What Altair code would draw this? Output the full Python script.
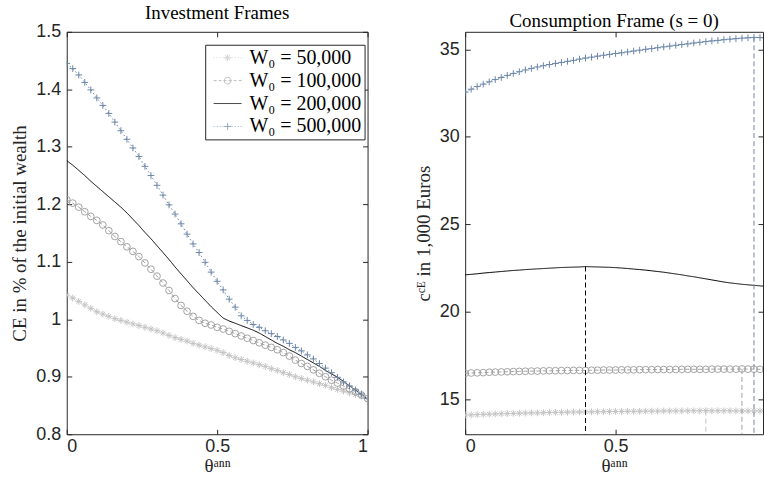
import altair as alt
import pandas as pd

# ---------------------------------------------------------------- data
THETA = [0.00, 0.02, 0.04, 0.06, 0.08, 0.10, 0.12, 0.14, 0.16, 0.18,
         0.20, 0.22, 0.24, 0.26, 0.28, 0.30, 0.32, 0.34, 0.36, 0.38,
         0.40, 0.42, 0.44, 0.46, 0.48, 0.50, 0.52, 0.54, 0.56, 0.58,
         0.60, 0.62, 0.64, 0.66, 0.68, 0.70, 0.72, 0.74, 0.76, 0.78,
         0.80, 0.82, 0.84, 0.86, 0.88, 0.90, 0.92, 0.94, 0.96, 0.98, 1.00]

SERIES = ["W₀ = 50,000", "W₀ = 100,000", "W₀ = 200,000", "W₀ = 500,000"]

# Investment frames: CE in % of the initial wealth
INV_50K = [1.042, 1.037, 1.031, 1.025, 1.019, 1.013, 1.009, 1.005, 1.001, 0.998,
           0.995, 0.992, 0.989, 0.986, 0.983, 0.980, 0.976, 0.972, 0.968, 0.965,
           0.962, 0.958, 0.955, 0.952, 0.949, 0.946, 0.942, 0.937, 0.933, 0.930,
           0.927, 0.924, 0.921, 0.918, 0.914, 0.911, 0.907, 0.904, 0.900, 0.897,
           0.894, 0.891, 0.888, 0.885, 0.881, 0.878, 0.875, 0.872, 0.869, 0.866, 0.862]
INV_100K = [1.208, 1.202, 1.195, 1.187, 1.179, 1.172, 1.164, 1.154, 1.144, 1.135,
            1.126, 1.118, 1.109, 1.098, 1.087, 1.075, 1.063, 1.050, 1.036, 1.024,
            1.014, 1.005, 0.998, 0.993, 0.990, 0.986, 0.983, 0.979, 0.975, 0.971,
            0.967, 0.963, 0.959, 0.955, 0.951, 0.947, 0.942, 0.936, 0.929, 0.923,
            0.918, 0.912, 0.906, 0.900, 0.894, 0.889, 0.884, 0.879, 0.874, 0.868, 0.862]
INV_200K = [1.276, 1.268, 1.259, 1.250, 1.240, 1.231, 1.222, 1.213, 1.204, 1.195,
            1.185, 1.174, 1.163, 1.151, 1.140, 1.128, 1.116, 1.104, 1.091, 1.079,
            1.067, 1.055, 1.044, 1.033, 1.022, 1.012, 1.002, 0.997, 0.993, 0.989,
            0.985, 0.981, 0.976, 0.970, 0.964, 0.958, 0.953, 0.947, 0.942, 0.936,
            0.930, 0.924, 0.918, 0.911, 0.905, 0.899, 0.892, 0.884, 0.877, 0.869, 0.862]
INV_500K = [1.445, 1.436, 1.425, 1.412, 1.399, 1.385, 1.372, 1.358, 1.343, 1.328,
            1.313, 1.298, 1.283, 1.266, 1.250, 1.233, 1.216, 1.199, 1.183, 1.166,
            1.148, 1.131, 1.116, 1.099, 1.082, 1.066, 1.051, 1.035, 1.021, 1.006,
            0.998, 0.991, 0.986, 0.980, 0.975, 0.970, 0.964, 0.958, 0.951, 0.945,
            0.938, 0.931, 0.923, 0.915, 0.907, 0.899, 0.891, 0.884, 0.877, 0.870, 0.862]

# Consumption frame (s = 0): c^CE in 1,000 Euros
CONS_50K = [14.10, 14.11, 14.12, 14.14, 14.15, 14.16, 14.17, 14.18, 14.19, 14.20,
            14.21, 14.22, 14.22, 14.23, 14.24, 14.25, 14.25, 14.26, 14.27, 14.27,
            14.28, 14.28, 14.29, 14.29, 14.30, 14.30, 14.30, 14.31, 14.31, 14.31,
            14.32, 14.32, 14.32, 14.33, 14.33, 14.33, 14.33, 14.34, 14.34, 14.34,
            14.35, 14.34, 14.34, 14.34, 14.34, 14.33, 14.33, 14.33, 14.33, 14.33, 14.33]
CONS_100K = [16.48, 16.50, 16.51, 16.52, 16.54, 16.55, 16.56, 16.57, 16.58, 16.59,
             16.60, 16.61, 16.61, 16.62, 16.63, 16.63, 16.64, 16.64, 16.65, 16.65,
             16.65, 16.66, 16.66, 16.67, 16.67, 16.67, 16.68, 16.68, 16.68, 16.69,
             16.69, 16.69, 16.70, 16.70, 16.70, 16.70, 16.71, 16.71, 16.71, 16.71,
             16.71, 16.72, 16.72, 16.72, 16.72, 16.72, 16.73, 16.72, 16.72, 16.71, 16.71]
CONS_200K = [22.11, 22.14, 22.17, 22.21, 22.24, 22.27, 22.30, 22.33, 22.36, 22.38,
             22.41, 22.43, 22.45, 22.47, 22.49, 22.51, 22.53, 22.54, 22.55, 22.56,
             22.58, 22.57, 22.56, 22.55, 22.54, 22.52, 22.50, 22.47, 22.44, 22.41,
             22.38, 22.34, 22.30, 22.26, 22.21, 22.16, 22.11, 22.05, 22.00, 21.94,
             21.88, 21.82, 21.76, 21.70, 21.65, 21.61, 21.57, 21.54, 21.51, 21.48, 21.45]
CONS_500K = [32.55, 32.72, 32.87, 33.01, 33.14, 33.27, 33.39, 33.51, 33.62, 33.72,
             33.82, 33.91, 33.99, 34.06, 34.13, 34.19, 34.25, 34.31, 34.37, 34.44,
             34.50, 34.55, 34.61, 34.66, 34.71, 34.76, 34.80, 34.85, 34.90, 34.95,
             35.00, 35.04, 35.09, 35.14, 35.18, 35.23, 35.27, 35.31, 35.36, 35.40,
             35.44, 35.48, 35.51, 35.55, 35.58, 35.61, 35.64, 35.66, 35.68, 35.67, 35.66]

# optimal θ^ann for each wealth level in the consumption frame
CONS_OPT_THETA = [0.80, 0.92, 0.40, 0.96]

INV_TICKS = [0.8, 0.9, 1.0, 1.1, 1.2, 1.3, 1.4, 1.5]
CONS_TICKS = [15, 20, 25, 30, 35]
X_TICKS = [0, 0.5, 1]
X_LABELLED_INV = [0, 0.5, 1]
X_LABELLED_CONS = [0, 0.5]

# ---------------------------------------------------------------- style
COLORS = ["#c4c4c4", "#a2a2a2", "#000000", "#6c86a8"]
DASHES = [[1.5, 2.5], [4, 2.5], [1, 0], [1.5, 2.5]]
WIDTHS = [1, 1, 1.2, 1]
AX = "#262626"
SERIF = "Liberation Serif"
SANS = "Liberation Sans"

ASTER = "M-1,0H1M0,-1V1M-0.7,-0.7L0.7,0.7M-0.7,0.7L0.7,-0.7"
PLUS = "M-1,0H1M0,-1V1"
MARKERS = [ASTER, "circle", "circle", PLUS]


def dotted(step, dash, half=3.5):
    out, x = [], -half
    while x < half - 1e-9:
        out.append(f"M{x:.2f},0h{min(dash, half - x):.2f}")
        x += step
    return "".join(out)


# legend glyphs: short line sample with the marker on it (unit = 4 px)
LEG_ASTER = "M-0.9,0H0.9M0,-0.9V0.9M-0.64,-0.64L0.64,0.64M-0.64,0.64L0.64,-0.64"
LEG_CIRCLE = "M0.85,0A0.85,0.85,0,1,1,-0.85,0A0.85,0.85,0,1,1,0.85,0"
LEG_PLUS = "M-0.9,0H0.9M0,-0.9V0.9"
LEGEND_GLYPHS = [dotted(0.75, 0.25) + LEG_ASTER,
                 dotted(1.25, 0.75) + LEG_CIRCLE,
                 "M-3.5,0H3.5",
                 dotted(0.75, 0.25) + LEG_PLUS]

H = 404
W_LEFT = 302
# the consumption panel runs off the right edge of the page: only θ ≤ 0.99 is shown
W_RIGHT = 299
X_DOMAIN_LEFT = [0, 1]
X_DOMAIN_RIGHT = [0, 0.99]


def long_frame(columns):
    rows = []
    for name, vals in zip(SERIES, columns):
        for t, v in zip(THETA, vals):
            rows.append({"theta": t, "value": v, "series": name})
    return pd.DataFrame(rows)


inv_df = long_frame([INV_50K, INV_100K, INV_200K, INV_500K])
cons_cols = [CONS_50K, CONS_100K, CONS_200K, CONS_500K]
cons_df = long_frame(cons_cols)
opt_df = pd.DataFrame({
    "theta": CONS_OPT_THETA,
    "value": [col[THETA.index(t)] for col, t in zip(cons_cols, CONS_OPT_THETA)],
    "series": SERIES,
})

color_scale = alt.Scale(domain=SERIES, range=COLORS)


def x_axis(values):
    return alt.Axis(orient="bottom", values=values, format="~g", title="θᵃⁿⁿ",
                    domain=False, grid=False, offset=-5, tickSize=5, tickColor=AX,
                    labelFont=SANS, labelFontSize=18, labelColor=AX, labelPadding=3,
                    titleFont=SERIF, titleFontSize=19, titleFontWeight="normal",
                    titleColor=AX, titlePadding=1)


def y_axis(values, title):
    return alt.Axis(orient="left", values=values, format="~g", title=title,
                    domain=False, grid=False, offset=-5, tickSize=5, tickColor=AX,
                    labelFont=SANS, labelFontSize=18, labelColor=AX, labelPadding=6,
                    titleFont=SERIF, titleFontSize=19, titleFontWeight="normal",
                    titleColor=AX, titlePadding=6)


def mirror_axis(orient, values):
    return alt.Axis(orient=orient, values=values, labels=False, title=None,
                    domain=False, grid=False, offset=-5, tickSize=5, tickColor=AX,
                    labelPadding=0)


def panel(df, xdom, width, ydom, yticks, ytitle, title, xlabels, with_legend=False, opt=None):
    xs = alt.Scale(domain=xdom, nice=False, zero=False)
    ys = alt.Scale(domain=ydom, nice=False, zero=False)
    base = alt.Chart(df)
    mirror_x = [v for v in X_TICKS if v <= xdom[1]]

    lines = base.mark_line(clip=True).encode(
        x=alt.X("theta:Q", scale=xs, axis=x_axis(xlabels)),
        y=alt.Y("value:Q", scale=ys, axis=y_axis(yticks, ytitle)),
        color=alt.Color("series:N", scale=color_scale, legend=None),
        strokeDash=alt.StrokeDash("series:N", scale=alt.Scale(domain=SERIES, range=DASHES), legend=None),
        strokeWidth=alt.StrokeWidth("series:N", scale=alt.Scale(domain=SERIES, range=WIDTHS), legend=None),
    )

    points = base.transform_filter(alt.datum.series != SERIES[2]).mark_point(
        filled=False, size=46, strokeWidth=1, opacity=1, clip=True
    ).encode(
        x=alt.X("theta:Q", scale=xs, axis=None),
        y=alt.Y("value:Q", scale=ys, axis=None),
        color=alt.Color("series:N", scale=color_scale, legend=None),
        shape=alt.Shape("series:N", scale=alt.Scale(domain=SERIES, range=MARKERS), legend=None),
    )

    frame = base.transform_filter("false").mark_point().encode(
        x=alt.X("theta:Q", scale=xs, axis=mirror_axis("top", mirror_x)),
        y=alt.Y("value:Q", scale=ys, axis=mirror_axis("right", yticks)),
    )

    layers = [lines, points]

    if opt is not None:
        rules = alt.Chart(opt).mark_rule(strokeDash=[5, 3]).encode(
            x=alt.X("theta:Q", scale=xs, axis=None),
            y=alt.Y("value:Q", scale=ys, axis=None),
            y2=alt.value(H),
            color=alt.Color("series:N", scale=color_scale, legend=None),
            strokeWidth=alt.StrokeWidth("series:N", scale=alt.Scale(domain=SERIES, range=[1, 1, 1.6, 1]), legend=None),
        )
        layers.append(rules)

    if with_legend:
        leg = alt.Legend(title=None, orient="none", legendX=139, legendY=13,
                         fillColor="white", strokeColor=AX, padding=3,
                         labelFont=SERIF, labelFontSize=20, labelColor="black",
                         labelLimit=0, labelOffset=12, symbolOffset=9.5,
                         symbolSize=64, symbolStrokeWidth=1, rowPadding=3,
                         symbolType="circle")
        legend_layer = base.transform_filter("false").mark_point(filled=False).encode(
            x=alt.X("theta:Q", scale=xs, axis=None),
            y=alt.Y("value:Q", scale=ys, axis=None),
            color=alt.Color("series:N", scale=alt.Scale(domain=SERIES, range=COLORS), legend=leg),
            shape=alt.Shape("series:N", scale=alt.Scale(domain=SERIES, range=LEGEND_GLYPHS), legend=leg),
        )
        layers.append(legend_layer)

    layers.append(frame)

    return alt.layer(*layers).resolve_axis(
        x="independent", y="independent"
    ).resolve_scale(
        shape="independent", color="independent"
    ).properties(
        width=width, height=H,
        title=alt.TitleParams(title, font=SERIF, fontSize=19, fontWeight="normal",
                              color="black", anchor="middle", frame="group", offset=0),
    )


left = panel(inv_df, X_DOMAIN_LEFT, W_LEFT, [0.8, 1.5], INV_TICKS,
             "CE in % of the initial wealth", "Investment Frames",
             X_LABELLED_INV, with_legend=True)
right = panel(cons_df, X_DOMAIN_RIGHT, W_RIGHT, [13, 36], CONS_TICKS,
              "cᶜᴱ in 1,000 Euros", "Consumption Frame (s = 0)",
              X_LABELLED_CONS, opt=opt_df)

chart = alt.hconcat(left, right, spacing=45).properties(
    padding={"left": 10, "top": 2, "right": 0, "bottom": 0},
    background="white",
).configure_view(stroke=AX, strokeWidth=1)

chart.save("out.html", embed_options={"renderer": "svg", "actions": False})
